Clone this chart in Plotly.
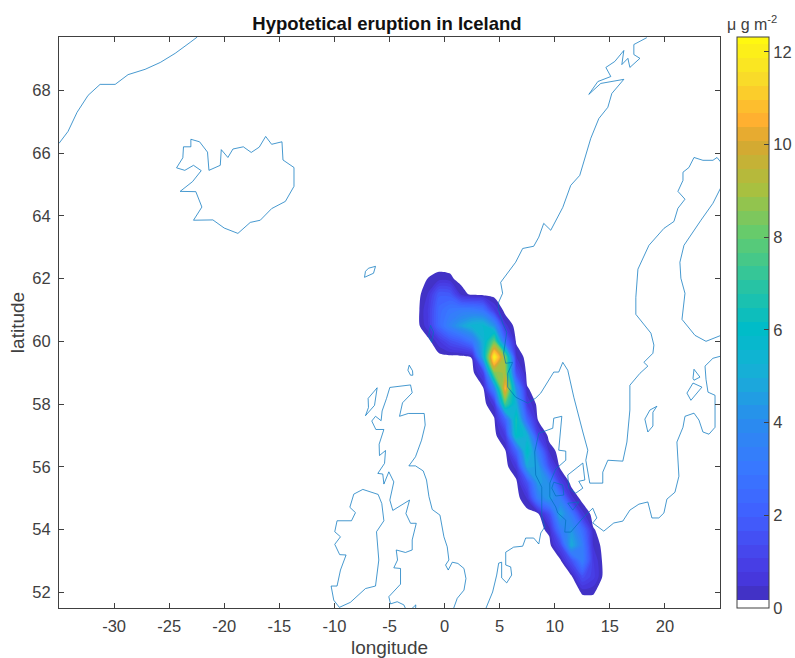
import plotly.graph_objects as go

title = "Hypotetical eruption in Iceland"
lon_grid = [-2.5,-1.5,-0.5,0.5,1.5,2.5,3.5,4.5,5.5,6.5,7.5,8.5,9.5,10.5,11.5,12.5,13.5,14.5]
lat_grid = [51.5,52,52.5,53,53.5,54,54.5,55,55.5,56,56.5,57,57.5,58,58.5,59,59.5,60,60.5,61,61.5,62,62.5]
# ash load, one row per latitude (south to north)
load = [
 [0]*18,
 [0,0,0,0,0,0,0,0,0,0,0,0,0,0,0,.2,.2,0],
 [0,0,0,0,0,0,0,0,0,0,0,0,0,0,.05,1.5,.9,0],
 [0,0,0,0,0,0,0,0,0,0,0,0,0,.05,1.5,3.4,.8,0],
 [0,0,0,0,0,0,0,0,0,0,0,0,0,1.2,5,3.4,.45,0],
 [0,0,0,0,0,0,0,0,0,0,0,0,.3,3.2,4.3,2.6,.2,0],
 [0,0,0,0,0,0,0,0,0,0,0,.1,1.5,4.8,3.2,.6,0,0],
 [0,0,0,0,0,0,0,0,0,0,.5,3.4,4.5,3.4,.6,0,0,0],
 [0,0,0,0,0,0,0,0,0,.05,1.6,4.6,4,1,0,0,0,0],
 [0,0,0,0,0,0,0,0,0,.6,4.8,4.6,1.5,.05,0,0,0,0],
 [0,0,0,0,0,0,0,0,.1,2.2,6.2,3.2,.4,0,0,0,0,0],
 [0,0,0,0,0,0,0,0,.8,6.2,5.2,1,0,0,0,0,0,0],
 [0,0,0,0,0,0,0,.1,2.2,6.6,2.2,.1,0,0,0,0,0,0],
 [0,0,0,0,0,0,0,.6,7.5,5.2,.8,0,0,0,0,0,0,0],
 [0,0,0,0,0,0,.1,3.5,10.8,4,.2,0,0,0,0,0,0,0],
 [0,0,0,0,0,0,1,8.5,9,1.5,0,0,0,0,0,0,0,0],
 [0,0,0,0,0,.2,5,12.3,8.5,.5,0,0,0,0,0,0,0,0],
 [0,0,.7,1.5,2,3,5.2,8,2.5,.1,0,0,0,0,0,0,0,0],
 [0,.7,2.4,3.6,4.6,5.4,5.6,4.2,.6,0,0,0,0,0,0,0,0,0],
 [0,.8,2.4,3,3.2,3.2,2.8,.8,0,0,0,0,0,0,0,0,0,0],
 [0,.5,1.9,1.8,.4,.05,0,0,0,0,0,0,0,0,0,0,0,0],
 [0,.18,.3,.25,0,0,0,0,0,0,0,0,0,0,0,0,0,0],
 [0]*18,
]

greenland_lon = [-35,-34.18,-33.36,-32.36,-31.27,-29.9,-28.73,-27.18,-25.8,-24.45,-23.09,-22.45]
greenland_lat = [66.31,66.69,67.30,67.84,68.19,68.19,68.5,68.67,68.89,69.18,69.53,69.7]
iceland_lon = [-23.03,-23.03,-23.70,-23.76,-24.33,-23.58,-22.79,-22.09,-22.88,-24.0,-22.58,-22.03,-22.79,-21.03,-20.0,-18.76,-17.64,-16.73,-15.7,-14.45,-13.67,-13.67,-14.67,-14.76,-15.7,-16.24,-16.82,-17.55,-18.27,-19.21,-19.67,-20.27,-20.36,-21.39,-21.52,-22.24,-23.03]
iceland_lat = [66.44,66.20,66.20,65.85,65.53,65.45,65.61,65.44,65.09,64.78,64.77,64.28,63.86,63.87,63.61,63.44,63.79,63.86,64.23,64.46,64.94,65.54,65.78,66.36,66.28,66.53,66.19,66.02,66.20,66.13,65.86,66.11,65.61,65.45,66.03,66.36,66.44]
faroes_lon = [-7.18,-6.91,-6.27,-6.45,-7.27,-7.18]
faroes_lat = [62.23,62.33,62.39,62.17,62.04,62.23]
shetland_lon = [-1.27,-1.0,-1.18,-1.45,-1.27]
shetland_lat = [60.51,60.29,59.97,60.19,60.51]
orkney_lon = [-3.21,-3.33,-3.09,-2.88,-2.91,-3.21]
orkney_lat = [59.24,59.08,58.92,58.92,59.06,59.24]
hebrides_lon = [-6.12,-6.94,-6.91,-7.18,-6.36,-6.12]
hebrides_lat = [58.52,58.18,57.89,57.63,57.96,58.52]
britain_lon = [-3.51,-3.70,-4.30,-4.91,-5.06,-4.0,-4.0,-4.61,-4.27,-4.39,-3.55,-2.94,-2.94,-2.57,-3.09,-3.51,-3.18,-4.70,-4.97,-4.61,-5.06,-5.51,-5.61,-6.06,-5.45,-5.36,-5.91,-5.94,-5.51,-6.24,-6.61,-6.27,-5.76,-5.67,-5.27,-4.97,-3.09,-2.94,-3.82,-4.09,-3.30,-1.85,-1.76,-2.09,-2.64,-3.24,-2.64,-1.94,-1.64,-1.42,-1.12,-0.42,-0.06,0.24,0.39,0.09,0.33,0.70,1.21,1.76,1.94,1.76,1.15,0.79]
britain_lat = [51.46,51.60,51.70,51.63,51.86,52.26,52.76,52.78,53.03,53.35,53.27,53.35,53.67,54.20,54.20,54.51,54.94,54.61,54.94,55.52,55.84,55.45,55.77,55.79,56.11,56.52,56.36,56.72,57.19,57.19,57.46,57.61,57.47,57.78,58.18,58.53,58.61,58.36,58.04,57.61,57.70,57.70,57.33,56.85,56.32,56.03,56.03,55.87,55.58,55.05,54.64,54.46,53.77,53.45,53.03,52.87,52.71,52.96,52.92,52.76,52.44,52.07,51.81,51.46]
cornwall_lon = [-3.03,-2.61,-2.64]
cornwall_lat = [51.46,51.60,51.46]
ireland_lon = [-7.42,-8.24,-8.60,-8.09,-8.45,-9.76,-9.97,-9.45,-9.97,-9.52,-8.94,-9.45,-9.76,-10.30,-10.06,-9.55,-8.55,-7.18,-6.27,-5.97,-6.18,-5.51,-5.70,-6.03,-7.42]
ireland_lat = [55.28,55.13,54.71,54.54,54.28,54.28,53.93,53.77,53.53,53.20,53.19,52.71,52.20,52.20,51.75,51.52,51.68,52.12,52.20,53.03,53.93,54.28,54.83,55.12,55.28]
continent_lon = [3.73,4.36,4.73,4.91,5.18,5.18,5.64,6.09,6.0,5.55,5.55,6.27,7.09,7.36,8.09,8.55,8.73,9.09,8.91,8.82,8.82,8.27,8.18,8.55,9.82,9.91,10.64,10.55,10.36,11.0,11.0,10.09,9.55,9.55,10.09,10.27,11.0,10.91,11.45,12.55,13.45,13.82,13.45,14.45,15.36,16.18,16.82,17.64,18.45,18.82,19.45,19.91,20.18,20.91,21.27,21.09,21.64,21.82,22.64,23.09,23.45,24.0,24.55,24.55,23.91,23.73,23.64,24.36,25.09]
continent_lat = [51.47,52.01,52.55,52.93,52.96,52.46,52.30,52.55,52.81,52.87,53.28,53.44,53.47,53.73,53.73,53.54,53.89,54.08,54.30,54.46,55.35,55.74,56.47,57.07,57.23,57.55,57.61,57.17,56.53,56.5,56.21,55.93,55.48,55.04,54.72,54.53,54.30,53.92,53.92,54.37,54.68,54.37,54.21,53.95,54.21,54.27,54.62,54.81,54.88,54.37,54.37,54.53,54.97,55.19,55.70,56.79,57.26,57.61,57.71,57.49,57.11,57.04,57.26,58.28,58.38,58.79,59.21,59.46,59.53]
scandinavia_lon = [18.36,17.18,17.18,17.73,16.82,16.64,16.09,16.27,15.45,14.64,15.09,13.91,13.09,14.18,16.27,15.18,14.82,14.0,13.27,12.27,11.45,10.73,9.64,9.0,8.55,8.09,7.09,6.45,5.09,5.27,4.91,4.91,5.27,5.64,5.36,5.55,6.18,5.73,5.73,6.45,7.55,8.27,8.73,9.91,10.36,10.73,11.18,11.73,12.55,13.0,12.82,13.18,14.36,14.36,14.82,16.18,16.55,16.82,16.82,17.73,18.45,18.09,18.91,19.0,18.73,17.36,17.36,17.55,18.55,19.91,20.82,21.18,21.82,21.18,21.64,21.64,22.18,22.64,23.45,24.36,24.73,25.09]
scandinavia_lat = [69.68,69.46,69.14,69.02,68.73,69.02,68.82,69.27,68.92,68.73,68.44,68.28,67.87,68.22,68.35,67.9,67.46,67.1,66.47,65.29,64.97,64.27,63.54,63.76,63.32,63.03,62.96,62.52,61.88,61.53,61.25,60.99,60.58,60.29,59.62,59.30,59.33,58.98,58.54,58.22,58.03,58.19,58.35,59.02,59.02,59.33,59.08,58.22,57.11,56.53,56.21,55.48,55.48,55.83,56.21,56.18,56.79,57.81,58.60,58.98,59.21,59.33,59.62,59.88,60.26,60.86,61.40,62.30,63.06,63.6,63.82,64.24,64.53,64.78,65.13,65.39,65.54,65.86,65.77,65.77,65.86,65.70]
finland_lon = [25.09,24.36,23.27,21.73,21.36,21.45,21.82,21.55,22.73,23.73,25.09]
finland_lat = [64.91,64.40,63.86,63.06,62.52,62.01,61.53,60.70,60.19,60.0,60.19]
gotland_lon = [19.27,18.64,18.18,18.45,18.91,18.91,19.27]
gotland_lat = [57.93,57.81,57.52,57.11,57.30,57.74,57.93]
saaremaa_lon = [22.64,22.55,22.64,23.18,22.64]
saaremaa_lat = [59.11,58.82,58.76,58.86,59.11]
hiiumaa_lon = [22.55,22.0,22.36,23.36,22.55]
hiiumaa_lat = [58.67,58.35,58.12,58.54,58.67]
zealand_lon = [11.18,12.55,12.73,12.18,12.55,11.91,11.27,11.18]
zealand_lat = [55.74,56.12,55.58,55.54,55.32,55.16,55.32,55.74]
funen_lon = [9.91,10.73,10.82,10.09,9.73,9.91]
funen_lat = [55.51,55.42,55.10,55.07,55.32,55.51]
lolland_lon = [11.18,12.18,11.64,11.18]
lolland_lat = [54.84,54.88,54.62,54.84]

x_ticks = [-30,-25,-20,-15,-10,-5,0,5,10,15,20]
y_ticks = [52,54,56,58,60,62,64,66,68]
cbar_ticks = [0,2,4,6,8,10,12]
Z_MAX = 12.3
scale = [[0,"#ffffff"],[0.012,"#4030b8"],[0.04,"#4535d8"],[0.08,"#4840e8"],[0.163,"#4060ff"],[0.244,"#3878ff"],[0.325,"#2a8cee"],[0.407,"#18aed8"],[0.488,"#00bcc8"],[0.57,"#2cc4a0"],[0.65,"#60cc70"],[0.732,"#a8c040"],[0.813,"#d8a830"],[0.854,"#ffb030"],[0.935,"#f8e028"],[1,"#fff810"]]

coasts = [(greenland_lon,greenland_lat),(iceland_lon,iceland_lat),(faroes_lon,faroes_lat),(shetland_lon,shetland_lat),
          (orkney_lon,orkney_lat),(hebrides_lon,hebrides_lat),(britain_lon,britain_lat),(cornwall_lon,cornwall_lat),
          (ireland_lon,ireland_lat),(continent_lon,continent_lat),(scandinavia_lon,scandinavia_lat),(finland_lon,finland_lat),
          (gotland_lon,gotland_lat),(saaremaa_lon,saaremaa_lat),(hiiumaa_lon,hiiumaa_lat),(zealand_lon,zealand_lat),
          (funen_lon,funen_lat),(lolland_lon,lolland_lat)]

FONT = "Liberation Sans"
INK = "#404040"
PLOT_LEFT = 59
PAPER_W = 795.0 - PLOT_LEFT
fig = go.Figure()
fig.add_trace(go.Contour(
    x=lon_grid, y=lat_grid, z=load, zmin=0, zmax=Z_MAX, colorscale=scale,
    autocontour=False, contours=dict(start=0.17, end=12.2, size=0.3, coloring="fill", showlines=False),
    line=dict(width=0, smoothing=0.7), hoverinfo="skip",
    colorbar=dict(x=678/PAPER_W, xanchor="left", xpad=0, y=0, yanchor="bottom", ypad=0, len=1, thickness=32,
                  tickmode="array", tickvals=cbar_ticks, ticks="inside", ticklen=5, tickcolor=INK,
                  outlinecolor=INK, outlinewidth=1, tickfont=dict(family=FONT, size=16.5, color=INK)),
))
for lo, la in coasts:
    fig.add_trace(go.Scatter(x=lo, y=la, mode="lines", line=dict(color="rgba(0,114,189,0.72)", width=1), hoverinfo="skip", showlegend=False))

axis = dict(showgrid=False, zeroline=False, ticks="inside", ticklen=5, tickcolor=INK, linecolor=INK, linewidth=1,
            mirror="allticks", tickfont=dict(family=FONT, size=16.5, color=INK), showline=True, tickmode="array",
            automargin=False)
fig.update_layout(
    width=795, height=658, autosize=False, margin=dict(l=PLOT_LEFT, r=0, t=37, b=50, autoexpand=False),
    paper_bgcolor="white", plot_bgcolor="white", showlegend=False,
    title=dict(text="<b>"+title+"</b>", x=387/795, xanchor="center", y=1-24/658, yanchor="middle",
               font=dict(family=FONT, size=18.5, color="#111111")),
    xaxis=dict(axis, domain=[0, 661/PAPER_W], range=[-35,25], tickvals=x_ticks, ticktext=[str(v) for v in x_ticks],
               ticklabelstandoff=3, title=dict(text="longitude", font=dict(family=FONT, size=19, color=INK), standoff=7)),
    yaxis=dict(axis, range=[51.5,69.7], tickvals=y_ticks, ticktext=[str(v) for v in y_ticks],
               ticklabelstandoff=4, title=dict(text="latitude", font=dict(family=FONT, size=19, color=INK), standoff=2)),
    annotations=[dict(text="μ g m<sup>-2</sup>", xref="paper", yref="paper", x=(752-PLOT_LEFT)/PAPER_W, y=1.004, yanchor="bottom",
                      xanchor="center", showarrow=False, font=dict(family=FONT, size=16, color=INK))],
)
fig.write_html("out.html", config=dict(displayModeBar=False), post_script="document.body.style.margin='0';")
